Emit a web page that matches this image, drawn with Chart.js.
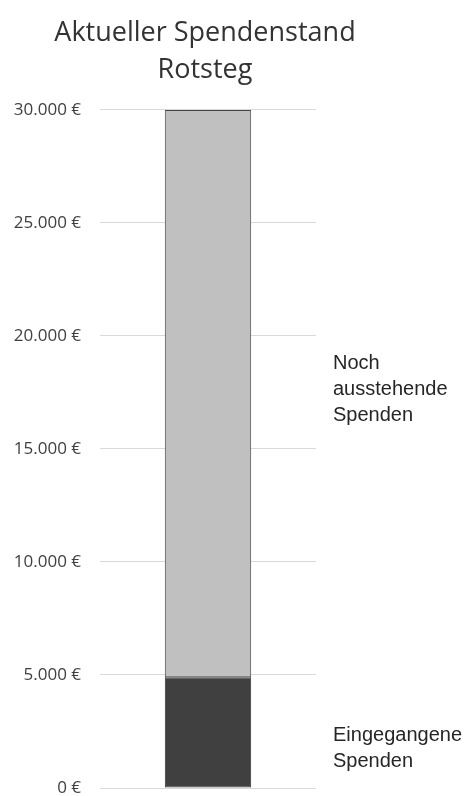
<!DOCTYPE html>
<html>
<head>
<meta charset="utf-8">
<script src="https://cdn.jsdelivr.net/npm/chart.js@4.4.1/dist/chart.umd.min.js"></script>
<style>
  html, body { margin: 0; padding: 0; background: #fff; }
  #wrap { width: 467px; height: 796px; }
</style>
</head>
<body>
<div id="wrap"><canvas id="spendenChart"></canvas></div>
<script>
const categories = ['Rotsteg'];
const seriesNames = [['Eingegangene', 'Spenden'], ['Noch', 'ausstehende', 'Spenden']];
const eingegangen = [4900];
const ausstehend = [25100];
const tickValues = [0, 5000, 10000, 15000, 20000, 25000, 30000];

// writes the series name to the right of each bar segment, like the Excel data labels
const labelShift = [16, -4];
const segmentLabels = {
    id: 'segmentLabels',
    afterDatasetsDraw(chart) {
        const ctx = chart.ctx;
        const x = chart.chartArea.right + 17;
        ctx.save();
        ctx.fillStyle = '#262626';
        ctx.font = '20px "Liberation Sans", Arial, sans-serif';
        ctx.textBaseline = 'middle';
        chart.data.datasets.forEach((ds, i) => {
            const bar = chart.getDatasetMeta(i).data[0];
            const mid = (bar.y + bar.base) / 2 + labelShift[i];
            const lines = seriesNames[i];
            const lh = 26;
            lines.forEach((line, j) => {
                ctx.fillText(line, x, mid + (j - (lines.length - 1) / 2) * lh);
            });
        });
        ctx.restore();
    }
};

const ctx = document.getElementById('spendenChart').getContext('2d');
new Chart(ctx, {
    type: 'bar',
    data: {
        labels: categories,
        datasets: [
            {
                label: 'Eingegangene Spenden',
                data: eingegangen,
                backgroundColor: '#404040',
                borderColor: '#333333',
                borderWidth: 1,
                borderSkipped: false,
                yAxisID: 'y'
            },
            {
                label: 'Noch ausstehende Spenden',
                data: ausstehend,
                backgroundColor: '#c0c0c0',
                borderColor: '#444444',
                borderWidth: 1,
                borderSkipped: false,
                yAxisID: 'y'
            }
        ]
    },
    options: {
        responsive: true,
        maintainAspectRatio: false,
        animation: false,
        layout: {
            padding: { left: 0, right: 57, top: 8, bottom: 8 }
        },
        datasets: {
            bar: { categoryPercentage: 1, barPercentage: 0.4 }
        },
        plugins: {
            legend: { display: false },
            tooltip: { enabled: false },
            title: {
                display: true,
                text: ['Aktueller Spendenstand', 'Rotsteg'],
                color: '#333333',
                font: { family: '"Open Sans", "Noto Sans", sans-serif', size: 27, weight: 'normal', lineHeight: 1.37 },
                padding: { top: 7, bottom: 21 }
            }
        },
        scales: {
            x: {
                stacked: true,
                display: false
            },
            y: {
                stacked: true,
                min: 0,
                max: 30000,
                afterBuildTicks(scale) {
                    scale.ticks = tickValues.map(v => ({ value: v }));
                },
                afterFit(scale) {
                    scale.width = 100;
                    scale.paddingTop = 0;
                    scale.paddingBottom = 0;
                },
                border: { display: false },
                grid: { color: '#d9d9d9', drawTicks: false, lineWidth: 1 },
                ticks: {
                    padding: 19,
                    color: '#404040',
                    font: { family: '"Open Sans", "Noto Sans", sans-serif', size: 17 },
                    callback: v => v.toLocaleString('de-DE') + ' €'
                }
            },
            // empty axis on the right, only reserves room for the segment labels
            yRight: {
                position: 'right',
                display: true,
                min: 0,
                max: 30000,
                afterFit(scale) {
                    scale.width = 94;
                    scale.paddingTop = 0;
                    scale.paddingBottom = 0;
                },
                border: { display: false },
                grid: { display: false, drawTicks: false },
                ticks: { display: false }
            }
        }
    },
    plugins: [segmentLabels]
});
</script>
</body>
</html>
